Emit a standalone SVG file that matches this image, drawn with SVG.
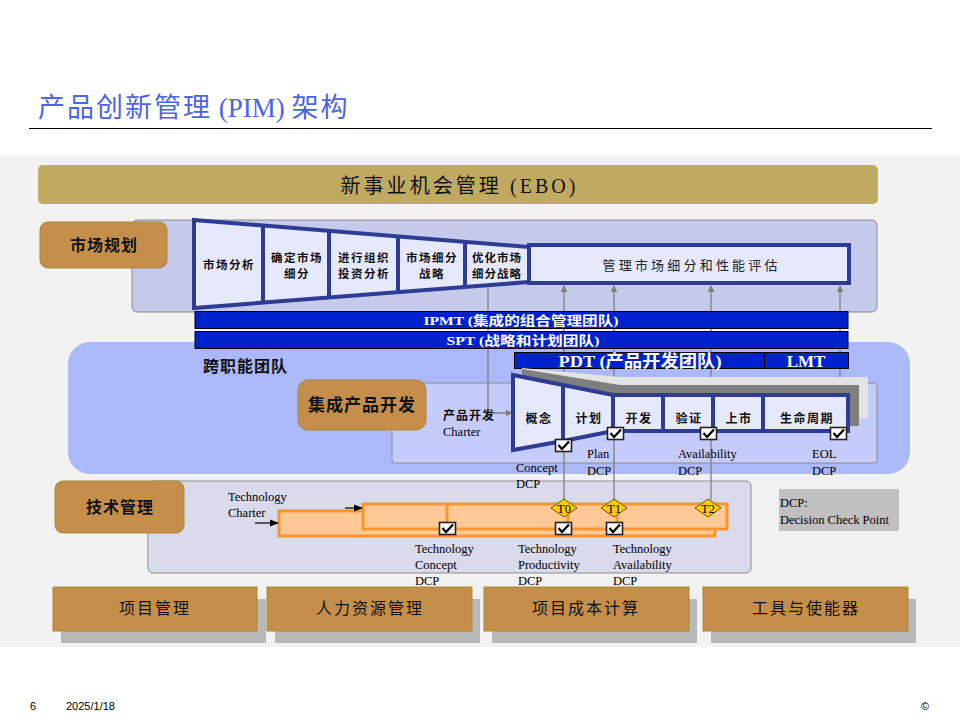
<svg xmlns="http://www.w3.org/2000/svg" width="960" height="720" viewBox="0 0 960 720">
<style>
.cjk{font-family:"Liberation Serif","Noto Sans CJK SC",serif}
.en{font-family:"Liberation Serif","Noto Sans CJK SC",serif;font-size:12.5px;fill:#000}
.brown{fill:#c58f4b;stroke:#a8893a;stroke-width:1}
.bar{fill:#0022cc;stroke:#000;stroke-width:1}
.bartxt{font-family:"Liberation Serif","Noto Sans CJK SC",serif;fill:#fff;font-weight:bold;text-anchor:middle}
.fun{fill:#e6e8fc;stroke:#2e3c96;stroke-width:4;stroke-linejoin:miter}
.div{stroke:#2e3c96;stroke-width:4}
.con{fill:none;stroke:#7f7f7f;stroke-width:1.3}
.orange{fill:#ffc996;stroke:#f7962e;stroke-width:3}
.dia{fill:#ffcc00;stroke:#6b5200;stroke-width:1}
.ft{font-family:"Liberation Sans",sans-serif;font-size:11px;fill:#000}
.lbl{font-family:"Liberation Serif","Noto Sans CJK SC",serif;font-size:11.5px;font-weight:bold;text-anchor:middle;fill:#111}
.plbl{font-family:"Liberation Serif","Noto Sans CJK SC",serif;font-size:12px;font-weight:bold;text-anchor:middle;fill:#111;letter-spacing:1.5px}
</style>
<defs>
<marker id="arr" viewBox="0 0 10 10" refX="9" refY="5" markerWidth="7" markerHeight="7" orient="auto-start-reverse" markerUnits="userSpaceOnUse">
<path d="M0,0 L10,5 L0,10 z" fill="#7f7f7f"/>
</marker>
<marker id="arrb" viewBox="0 0 10 10" refX="9" refY="5" markerWidth="9" markerHeight="9" orient="auto" markerUnits="userSpaceOnUse">
<path d="M0,1 L10,5 L0,9 z" fill="#000"/>
</marker>
<g id="chk">
<rect x="0.5" y="0.5" width="16" height="12" fill="#fff" stroke="#222" stroke-width="1.6"/>
<path d="M3.5,6 L7,10 L14,2.5" fill="none" stroke="#000" stroke-width="2.2"/>
</g>
</defs>

<rect x="0" y="0" width="960" height="720" fill="#fff"/>
<rect x="0" y="155" width="960" height="492" fill="#f2f2f2"/>

<g id="title">
<text x="38" y="117" class="cjk" font-size="27" fill="#4d64e8"><tspan letter-spacing="2">产品创新管理</tspan> (PIM) <tspan letter-spacing="2">架构</tspan></text>
<line x1="29" y1="128.5" x2="932" y2="128.5" stroke="#000" stroke-width="1"/>
</g>

<g id="ebo">
<rect x="38" y="165" width="840" height="39" rx="5" fill="#c0aa62"/>
<text x="458" y="193" class="cjk" font-size="20" text-anchor="middle" fill="#111" textLength="235" lengthAdjust="spacing">新事业机会管理 (EBO)</text>
</g>

<g id="market-panel">
<rect x="132" y="220" width="745" height="92" rx="5" fill="#c5c9ea" stroke="#8c8c8c" stroke-width="1"/>
</g>

<g id="cross-team">
<rect x="68" y="342" width="842" height="132" rx="22" fill="#abb8f9"/>
<text x="203" y="372" class="cjk" font-size="16" font-weight="bold" fill="#111" letter-spacing="1">跨职能团队</text>
<rect x="392" y="383" width="485" height="80" rx="3" fill="#c5cbfa" stroke="#8c8c8c" stroke-width="1"/>
</g>

<g id="tech-panel">
<rect x="148" y="481" width="603" height="92" rx="5" fill="#d9daeb" stroke="#8c8c8c" stroke-width="1"/>
</g>

<g id="connectors">
<path class="con" d="M488,283 V413 H512" marker-end="url(#arr)"/>
<line class="con" x1="564" y1="286" x2="564" y2="385" marker-start="url(#arr)" marker-end="url(#arr)"/>
<line class="con" x1="614" y1="286" x2="614" y2="393" marker-start="url(#arr)" marker-end="url(#arr)"/>
<line class="con" x1="711" y1="286" x2="711" y2="393" marker-start="url(#arr)" marker-end="url(#arr)"/>
<line class="con" x1="840" y1="286" x2="840" y2="393" marker-start="url(#arr)" marker-end="url(#arr)"/>
<line class="con" x1="564" y1="452" x2="564" y2="500"/>
<line class="con" x1="614" y1="439" x2="614" y2="500"/>
<line class="con" x1="711" y1="439" x2="711" y2="500"/>
</g>

<g id="market-funnel">
<polygon class="fun" points="194,220 529,247 529,282 194,308"/>
<line class="div" x1="263" y1="226" x2="263" y2="302"/>
<line class="div" x1="329" y1="231" x2="329" y2="297"/>
<line class="div" x1="398" y1="237" x2="398" y2="291"/>
<line class="div" x1="465" y1="243" x2="465" y2="286"/>
<rect class="fun" x="529" y="245" width="320" height="38"/>
<text class="lbl" x="229" y="269" letter-spacing="1.5">市场分析</text>
<text class="lbl" x="297" y="262" letter-spacing="1.5">确定市场</text>
<text class="lbl" x="297" y="278" letter-spacing="1.5">细分</text>
<text class="lbl" x="364" y="262" letter-spacing="1.5">进行组织</text>
<text class="lbl" x="364" y="278" letter-spacing="1.5">投资分析</text>
<text class="lbl" x="432" y="262" letter-spacing="1.5">市场细分</text>
<text class="lbl" x="432" y="278" letter-spacing="1.5">战略</text>
<text class="lbl" x="497" y="262" letter-spacing="1">优化市场</text>
<text class="lbl" x="497" y="278" letter-spacing="1">细分战略</text>
<text x="690" y="270" class="cjk" font-size="13" text-anchor="middle" fill="#222" textLength="175" lengthAdjust="spacing">管理市场细分和性能评估</text>
</g>

<g id="market-label">
<rect class="brown" x="40" y="222" width="127" height="46" rx="8"/>
<text x="104" y="251" class="cjk" font-size="16" font-weight="bold" text-anchor="middle" fill="#111" letter-spacing="1">市场规划</text>
</g>

<g id="ipmt">
<rect class="bar" x="195" y="311.5" width="653" height="17"/>
<text class="bartxt" x="521" y="325" font-size="13" textLength="195" lengthAdjust="spacingAndGlyphs">IPMT (集成的组合管理团队)</text>
</g>
<g id="spt">
<rect class="bar" x="195" y="331.5" width="653" height="17"/>
<text class="bartxt" x="523" y="345" font-size="13" textLength="153" lengthAdjust="spacingAndGlyphs">SPT (战略和计划团队)</text>
</g>
<g id="pdt">
<rect class="bar" x="514.5" y="352.5" width="250" height="16"/>
<text class="bartxt" x="640" y="367" font-size="17" textLength="163" lengthAdjust="spacingAndGlyphs">PDT (产品开发团队)</text>
</g>
<g id="lmt">
<rect class="bar" x="764.5" y="352.5" width="84" height="16"/>
<text class="bartxt" x="806" y="367" font-size="17">LMT</text>
</g>

<g id="ipd-label">
<rect class="brown" x="298" y="380" width="128" height="50" rx="10"/>
<text x="362" y="411" class="cjk" font-size="17" font-weight="bold" text-anchor="middle" fill="#111" letter-spacing="1">集成产品开发</text>
</g>

<g id="charter">
<text x="443" y="420" class="cjk" font-size="12" font-weight="bold" fill="#111" letter-spacing="1">产品开发</text>
<text x="443" y="436" class="en">Charter</text>
</g>

<g id="process">
<polygon points="522,368 620,377 868,377 868,418 522,418" fill="#e3e3e3"/>
<polygon points="522,369 620,385 859,385 859,426 522,426" fill="#7f7f7f"/>
<polygon class="fun" points="513,375 563,385 613,395 848,395 848,431 613,431 563,441 513,450"/>
<line class="div" x1="563" y1="385" x2="563" y2="441"/>
<line class="div" x1="613" y1="395" x2="613" y2="431"/>
<line class="div" x1="663" y1="395" x2="663" y2="431"/>
<line class="div" x1="713" y1="395" x2="713" y2="431"/>
<line class="div" x1="763" y1="395" x2="763" y2="431"/>
<text class="plbl" x="539" y="423">概念</text>
<text class="plbl" x="589" y="423">计划</text>
<text class="plbl" x="639" y="423">开发</text>
<text class="plbl" x="689" y="423">验证</text>
<text class="plbl" x="739" y="423">上市</text>
<text class="plbl" x="807" y="423">生命周期</text>
<use href="#chk" x="555" y="439"/>
<use href="#chk" x="607" y="427"/>
<use href="#chk" x="700" y="427"/>
<use href="#chk" x="830" y="427"/>
</g>

<g id="dcp-labels">
<text class="en" x="516" y="472">Concept</text>
<text class="en" x="516" y="488">DCP</text>
<text class="en" x="587" y="458">Plan</text>
<text class="en" x="587" y="475">DCP</text>
<text class="en" x="678" y="458">Availability</text>
<text class="en" x="678" y="475">DCP</text>
<text class="en" x="812" y="458">EOL</text>
<text class="en" x="812" y="475">DCP</text>
</g>

<g id="tech-label">
<rect class="brown" x="55" y="481" width="129" height="52" rx="8"/>
<text x="120" y="513" class="cjk" font-size="16" font-weight="bold" text-anchor="middle" fill="#111" letter-spacing="1">技术管理</text>
</g>

<g id="tech-bars">
<rect class="orange" x="279" y="511" width="436" height="25"/>
<rect class="orange" x="363" y="504" width="364" height="25"/>
<line x1="447" y1="504" x2="447" y2="529" stroke="#f7962e" stroke-width="3"/>
<line x1="568" y1="504" x2="568" y2="529" stroke="#f7962e" stroke-width="3"/>
<line x1="617" y1="504" x2="617" y2="529" stroke="#f7962e" stroke-width="3"/>
<line x1="255" y1="523" x2="278" y2="523" stroke="#000" stroke-width="1.2" marker-end="url(#arrb)"/>
<line x1="345" y1="508" x2="362" y2="508" stroke="#000" stroke-width="1.2" marker-end="url(#arrb)"/>
<text class="en" x="228" y="501">Technology</text>
<text class="en" x="228" y="517">Charter</text>
</g>

<g id="tech-gates">
<polygon class="dia" points="564,499 577,508 564,517 551,508"/>
<text x="564" y="513" class="en" text-anchor="middle">T0</text>
<polygon class="dia" points="614,499 627,508 614,517 601,508"/>
<text x="614" y="513" class="en" text-anchor="middle">T1</text>
<polygon class="dia" points="708,499 721,508 708,517 695,508"/>
<text x="708" y="513" class="en" text-anchor="middle">T2</text>
<use href="#chk" x="439" y="522"/>
<use href="#chk" x="555" y="522"/>
<use href="#chk" x="606" y="522"/>
</g>

<g id="tech-dcp-labels">
<text class="en" x="415" y="553">Technology</text>
<text class="en" x="415" y="569">Concept</text>
<text class="en" x="415" y="585">DCP</text>
<text class="en" x="518" y="553">Technology</text>
<text class="en" x="518" y="569">Productivity</text>
<text class="en" x="518" y="585">DCP</text>
<text class="en" x="613" y="553">Technology</text>
<text class="en" x="613" y="569">Availability</text>
<text class="en" x="613" y="585">DCP</text>
</g>

<g id="dcp-legend">
<rect x="779" y="489" width="120" height="42" fill="#c0c0c0"/>
<text class="en" x="780" y="507" font-size="13">DCP:</text>
<text class="en" x="780" y="524" font-size="13">Decision Check Point</text>
</g>

<g id="box-pm">
<rect x="61" y="599" width="205" height="44" fill="#b8b8b8"/>
<rect class="brown" x="53" y="587" width="204" height="44"/>
<text x="155" y="614" class="cjk" font-size="16" text-anchor="middle" fill="#111" letter-spacing="2">项目管理</text>
</g>
<g id="box-hr">
<rect x="275" y="599" width="205" height="44" fill="#b8b8b8"/>
<rect class="brown" x="267" y="587" width="205" height="44"/>
<text x="370" y="614" class="cjk" font-size="16" text-anchor="middle" fill="#111" letter-spacing="2">人力资源管理</text>
</g>
<g id="box-cost">
<rect x="492" y="599" width="205" height="44" fill="#b8b8b8"/>
<rect class="brown" x="484" y="587" width="205" height="44"/>
<text x="586" y="614" class="cjk" font-size="16" text-anchor="middle" fill="#111" letter-spacing="2">项目成本计算</text>
</g>
<g id="box-tools">
<rect x="711" y="599" width="205" height="44" fill="#b8b8b8"/>
<rect class="brown" x="703" y="587" width="205" height="44"/>
<text x="806" y="614" class="cjk" font-size="16" text-anchor="middle" fill="#111" letter-spacing="2">工具与使能器</text>
</g>

<g id="footer">
<text class="ft" x="30" y="710">6</text>
<text class="ft" x="66" y="710">2025/1/18</text>
<text class="ft" x="921" y="710">©</text>
</g>
</svg>
